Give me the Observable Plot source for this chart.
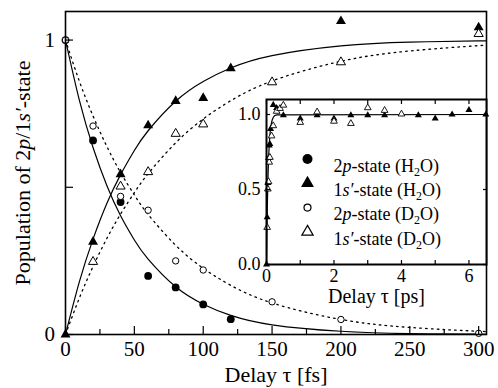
<!DOCTYPE html>
<html><head><meta charset="utf-8">
<script src="https://cdn.jsdelivr.net/npm/d3@7"></script>
<script src="https://cdn.jsdelivr.net/npm/@observablehq/plot@0.6"></script>
<style>
html,body{margin:0;padding:0;background:#fff;}
#chart{position:relative;width:498px;height:388px;}
#chart svg{position:absolute;left:0;top:0;background:transparent !important;font-family:'Liberation Serif','Times New Roman',serif !important;}
#chart svg text{font-family:'Liberation Serif','Times New Roman',serif !important;}
</style></head><body><div id="chart"></div>
<script>
// ---- measured points (delay in fs) ----
const h2o2pT = [0, 20, 40, 60, 80, 100, 120];
const h2o2pV = [1.0, 0.659, 0.45, 0.199, 0.16, 0.102, 0.052];
const h2o1sT = [0, 20, 40, 60, 80, 100, 120, 200, 300];
const h2o1sV = [0, 0.315, 0.544, 0.71, 0.793, 0.803, 0.904, 1.064, 1.043];
const d2o2pT = [0, 20, 40, 60, 80, 100, 150, 200, 300];
const d2o2pV = [1.0, 0.708, 0.469, 0.422, 0.25, 0.219, 0.111, 0.051, 0.004];
const d2o1sT = [20, 40, 60, 80, 100, 150, 200, 300];
const d2o1sV = [0.247, 0.503, 0.552, 0.682, 0.714, 0.857, 0.925, 1.021];

// ---- fitted curves (fs) ----
const curveT   = [0, 10, 20, 30, 40, 50, 60, 80, 100, 120, 150, 200, 250, 300, 310];
const fitH2o2p = [1, 0.797, 0.635, 0.506, 0.403, 0.321, 0.256, 0.162, 0.103, 0.065, 0.033, 0.011, 0.003, 0.001, 0.001];
const fitH2o1s = [0, 0.178, 0.324, 0.445, 0.543, 0.625, 0.692, 0.792, 0.859, 0.905, 0.947, 0.980, 0.993, 0.997, 0.998];
const fitD2o2p = [1, 0.861, 0.742, 0.639, 0.550, 0.474, 0.408, 0.303, 0.225, 0.167, 0.107, 0.051, 0.024, 0.011, 0.010];
const fitD2o1s = [0, 0.123, 0.231, 0.326, 0.409, 0.482, 0.546, 0.651, 0.732, 0.794, 0.861, 0.928, 0.963, 0.981, 0.983];

// ---- inset: long-delay points (ps) ----
const insetH2o1sT = [0.5, 1.0, 1.5, 2.0, 2.5, 3.0, 3.5, 4.5, 5.0, 5.5, 6.0, 6.5];
const insetH2o1sV = [0.995, 0.973, 0.995, 0.973, 0.995, 0.995, 0.995, 0.995, 0.973, 1.0, 1.03, 1.0];
const insetD2o1sT = [0.4, 0.5, 1.0, 1.5, 2.0, 2.5, 3.0, 3.5, 4.0];
const insetD2o1sV = [1.04, 1.062, 0.947, 1.017, 0.955, 0.94, 1.045, 1.027, 1.003];
const insetTailT = [6.6];
const insetTailRise = [1.0];

// ---- ticks and labels ----
const xMajor = [0, 50, 100, 150, 200, 250, 300];
const xMinor = [25, 75, 125, 175, 225, 275];
const yLabeled = [0, 1];
const yUnlabeled = [0.5];
const insetXTicks = [0, 2, 4, 6];
const insetXMinor = [1, 3, 5];
const insetYTicks = [0, 0.5, 1.0];
const legendLabels = ["2p-state (H2O)", "1s′-state (H2O)", "2p-state (D2O)", "1s′-state (D2O)"];
const yTitle = "Population of 2p/1s′-state";
const xTitle = "Delay τ [fs]";
const insetXTitle = "Delay τ [ps]";

const rows = (ts, vs, k = 1) => ts.map((t, i) => ({t: t * k, v: vs[i]}));
const FONT = "'Liberation Serif', 'Times New Roman', serif";

const solid = {stroke: "black", strokeWidth: 1.2, curve: "natural", clip: true};
const dotted = {stroke: "black", strokeWidth: 1.3, strokeDasharray: "1.6,4.2", curve: "natural", clip: true};

const main = Plot.plot({
  width: 498, height: 388,
  marginLeft: 65, marginRight: 12, marginTop: 11, marginBottom: 54,
  x: {domain: [0, 305.7], label: null},
  y: {domain: [0, 1.097], label: null},
  style: {fontFamily: FONT, background: "transparent", color: "black"},
  marks: [
    Plot.line(rows(curveT, fitH2o2p), {x: "t", y: "v", ...solid}),
    Plot.line(rows(curveT, fitH2o1s), {x: "t", y: "v", ...solid}),
    Plot.line(rows(curveT, fitD2o2p), {x: "t", y: "v", ...dotted}),
    Plot.line(rows(curveT, fitD2o1s), {x: "t", y: "v", ...dotted}),
    Plot.dot(rows(h2o2pT, h2o2pV), {x: "t", y: "v", symbol: "circle", r: 3.9, fill: "black"}),
    Plot.dot(rows(h2o1sT, h2o1sV), {x: "t", y: "v", symbol: "triangle", r: 3.7, fill: "black"}),
    Plot.dot(rows(d2o2pT, d2o2pV), {x: "t", y: "v", symbol: "circle", r: 3.2, fill: "white", stroke: "black", strokeWidth: 1}),
    Plot.dot(rows(d2o1sT, d2o1sV), {x: "t", y: "v", symbol: "triangle", r: 3.4, fill: "white", stroke: "black", strokeWidth: 1}),
    Plot.frame({stroke: "black", strokeWidth: 1.6}),
    Plot.axisX(xMinor, {tickSize: -5, strokeWidth: 1.2, tickFormat: () => "", label: null}),
    Plot.axisX(xMajor, {tickSize: -8, strokeWidth: 1.2, tickPadding: 15, fontSize: 21, fontFamily: FONT, label: null}),
    Plot.axisY(yUnlabeled, {tickSize: -8, strokeWidth: 1.2, tickFormat: () => "", label: null}),
    Plot.axisY(yLabeled, {tickSize: -8, strokeWidth: 1.2, tickPadding: 18.5, fontSize: 21, fontFamily: FONT, tickFormat: d => String(d), label: null}),
    Plot.text([yTitle], {frameAnchor: "left", textAnchor: "middle", rotate: -90, dx: -43, fontSize: 22, fontFamily: FONT}),
    Plot.text([xTitle], {frameAnchor: "bottom", dy: 47, fontSize: 22, fontFamily: FONT})
  ]
});

const insetCurve = rows(curveT, fitH2o1s, 0.001).concat(rows(insetTailT, insetTailRise));
const legendStyles = [
  {symbol: "circle", r: 5, fill: "black"},
  {symbol: "triangle", r: 4.8, fill: "black"},
  {symbol: "circle", r: 3.5, fill: "white", stroke: "black", strokeWidth: 1.2},
  {symbol: "triangle", r: 4.2, fill: "white", stroke: "black", strokeWidth: 1.2}
];
const legendMarks = legendLabels.flatMap((lab, i) => [
  Plot.dot([lab], {frameAnchor: "top-left", dx: 41, dy: 59.5 + i * 24.3, ...legendStyles[i]}),
  Plot.text([lab], {frameAnchor: "top-left", dx: 67, dy: 59.5 + i * 24.3, textAnchor: "start", fontSize: 18, fontFamily: FONT})
]);

const inset = Plot.plot({
  width: 498, height: 388,
  marginLeft: 266, marginRight: 12, marginTop: 99, marginBottom: 124,
  x: {domain: [0, 6.52], label: null},
  y: {domain: [0, 1.1], label: null},
  style: {fontFamily: FONT, background: "transparent", color: "black"},
  marks: [
    Plot.frame({fill: "white", stroke: null}),
    Plot.line(insetCurve, {x: "t", y: "v", stroke: "black", strokeWidth: 1.2, curve: "monotone-x", clip: true}),
    Plot.dot(rows(h2o1sT, h2o1sV, 0.001).concat(rows(insetH2o1sT, insetH2o1sV)), {x: "t", y: "v", symbol: "triangle", r: 2.6, fill: "black"}),
    Plot.dot(rows(d2o1sT, d2o1sV, 0.001).concat(rows(insetD2o1sT, insetD2o1sV)), {x: "t", y: "v", symbol: "triangle", r: 2.5, fill: "white", stroke: "black", strokeWidth: 0.9}),
    Plot.frame({stroke: "black", strokeWidth: 2}),
    Plot.axisX(insetXMinor, {tickSize: -4, strokeWidth: 1.2, tickFormat: () => "", label: null}),
    Plot.axisX(insetXTicks, {tickSize: -4, strokeWidth: 1.2, tickPadding: 8.5, fontSize: 18, fontFamily: FONT, label: null}),
    Plot.axisX(insetXTicks.concat(insetXMinor), {anchor: "top", tickSize: -4, strokeWidth: 1.2, tickFormat: () => "", label: null}),
    Plot.axisY(insetYTicks, {tickSize: -4, strokeWidth: 1.2, tickPadding: 10, fontSize: 18, fontFamily: FONT, tickFormat: d3.format(".1f"), label: null}),
    Plot.axisY(insetYTicks, {anchor: "right", tickSize: -4, strokeWidth: 1.2, tickFormat: () => "", label: null}),
    Plot.text([insetXTitle], {frameAnchor: "bottom", dy: 38, fontSize: 20, fontFamily: FONT}),
    ...legendMarks
  ]
});

const it = s => `<tspan font-style="italic">${s}</tspan>`;
const sub = (s, fs) => `<tspan font-size="${fs}" dy="4">${s}</tspan><tspan dy="-4">`;
const rich = {
  [legendLabels[0]]: `2${it("p")}-state (H${sub("2", 12)}O)</tspan>`,
  [legendLabels[1]]: `1${it("s′")}-state (H${sub("2", 12)}O)</tspan>`,
  [legendLabels[2]]: `2${it("p")}-state (D${sub("2", 12)}O)</tspan>`,
  [legendLabels[3]]: `1${it("s′")}-state (D${sub("2", 12)}O)</tspan>`,
  [yTitle]: `Population of 2${it("p")}/1${it("s′")}-state`
};
for (const svg of [main, inset]) {
  svg.querySelectorAll("text").forEach(el => {
    el.style.fontFamily = FONT;
    const s = el.textContent;
    if (rich[s]) el.innerHTML = rich[s];
  });
}
const chart = document.getElementById("chart");
chart.appendChild(main);
chart.appendChild(inset);
</script></body></html>
